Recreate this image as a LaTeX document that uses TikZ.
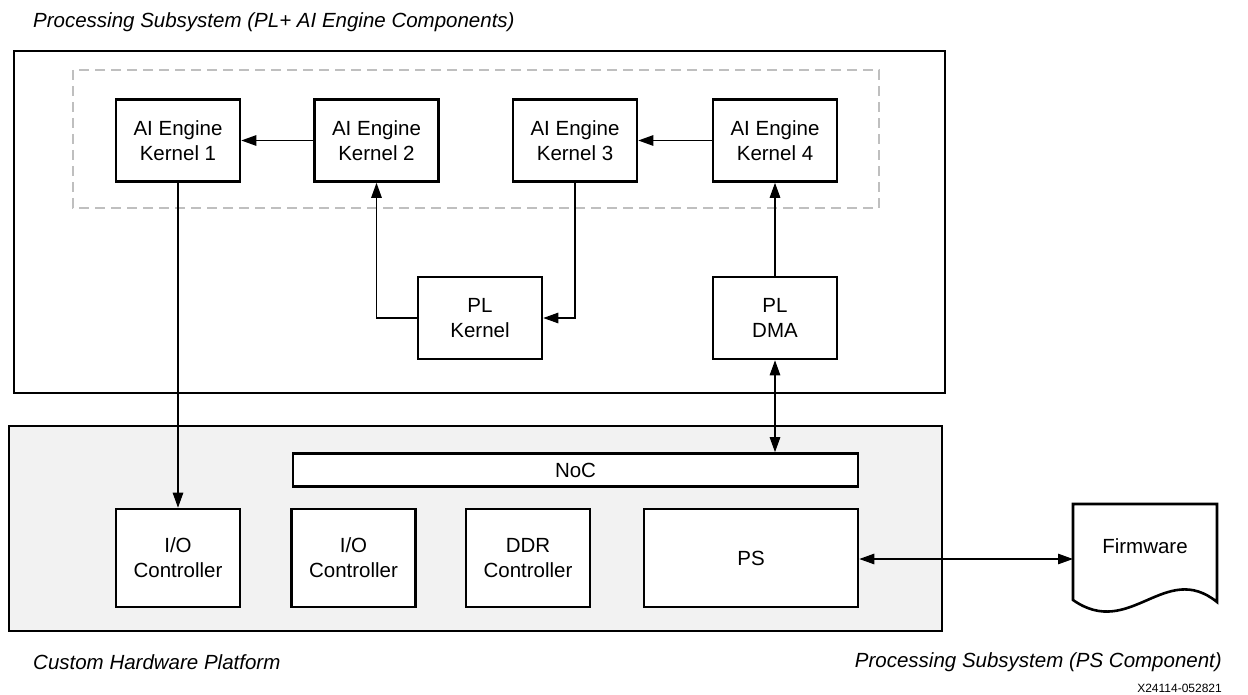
\documentclass[tikz,border=0pt]{standalone}
\usepackage{fontspec}
\setmainfont{Liberation Sans}
\usetikzlibrary{arrows.meta}
\begin{document}
\begin{tikzpicture}[x=1pt,y=-1pt,
  box/.style={draw=black,line width=2.6pt,fill=white,align=center,inner sep=0pt,
    font=\fontsize{20.5}{25}\selectfont},
  frame/.style={draw=black,line width=2.8pt},
  conn/.style={draw=black,line width=1.2pt,-{Triangle[length=15pt,width=10.5pt]}},
  bconn/.style={draw=black,line width=1.2pt,{Triangle[length=15pt,width=10.5pt]}-{Triangle[length=15pt,width=10.5pt]}},
  lbl/.style={font=\fontsize{20.5}{24}\selectfont\itshape,inner sep=0pt},
]
\useasboundingbox (0,0) rectangle (1248,695);
% frames
\draw[frame] (14,51) rectangle (945,393);
\draw[frame,fill=black!5] (9,426) rectangle (942,631);
\draw[draw=black!25,line width=2.6pt,dash pattern=on 10pt off 6pt] (73,70) rectangle (879,208);
% nodes
\node[box,minimum width=124pt,minimum height=82pt] (k1) at (178,140.5) {AI Engine\\Kernel 1};
\node[box,minimum width=124pt,minimum height=82pt] (k2) at (376.5,140.5) {AI Engine\\Kernel 2};
\node[box,minimum width=124pt,minimum height=82pt] (k3) at (575,140.5) {AI Engine\\Kernel 3};
\node[box,minimum width=124pt,minimum height=82pt] (k4) at (775,140.5) {AI Engine\\Kernel 4};
\node[box,minimum width=124pt,minimum height=82pt] (plk) at (480,318) {PL\\Kernel};
\node[box,minimum width=124pt,minimum height=82pt] (dma) at (775,318) {PL\\DMA};
\node[box,minimum width=565pt,minimum height=33pt] (noc) at (575.5,470) {NoC};
\node[box,minimum width=124pt,minimum height=98pt] (io1) at (178,558) {I/O\\Controller};
\node[box,minimum width=124pt,minimum height=98pt] (io2) at (353.5,558) {I/O\\Controller};
\node[box,minimum width=124pt,minimum height=98pt] (ddr) at (528,558) {DDR\\Controller};
\node[box,minimum width=214pt,minimum height=98pt] (ps) at (751,558) {PS};
% firmware document shape
\draw[line width=2.6pt,fill=white,line join=miter]
  (1073,600) -- (1073,504) -- (1217,504) -- (1217,602)
  .. controls (1165,560) and (1130,640) .. (1073,600) -- cycle;
\coordinate (fwin) at (1073,559);
\node[inner sep=0pt,font=\fontsize{20.5}{25}\selectfont] (fw) at (1145,546) {Firmware};
% connectors
\draw[conn] (k2.west) -- (k1.east);
\draw[conn] (k4.west) -- (k3.east);
\draw[conn] (k1.south) -- (io1.north);
\draw[conn] (plk.west) -| (k2.south);
\draw[conn] (k3.south) |- (plk.east);
\draw[conn] (dma.north) -- (k4.south);
\draw[bconn] (dma.south) -- (dma.south |- noc.north);
\draw[bconn] (ps.east |- fwin) -- (fwin);
% labels
\node[lbl,anchor=west] (t1) at (33,22) {Processing Subsystem (PL+ AI Engine Components)};
\node[lbl,anchor=west] (t2) at (33,662) {Custom Hardware Platform};
\node[lbl,anchor=east] (t3) at (1222,662) {Processing Subsystem (PS Component)};
\node[inner sep=0pt,anchor=east,font=\fontsize{12}{14}\selectfont] (t4) at (1222,688) {X24114-052821};
\end{tikzpicture}
\end{document}
